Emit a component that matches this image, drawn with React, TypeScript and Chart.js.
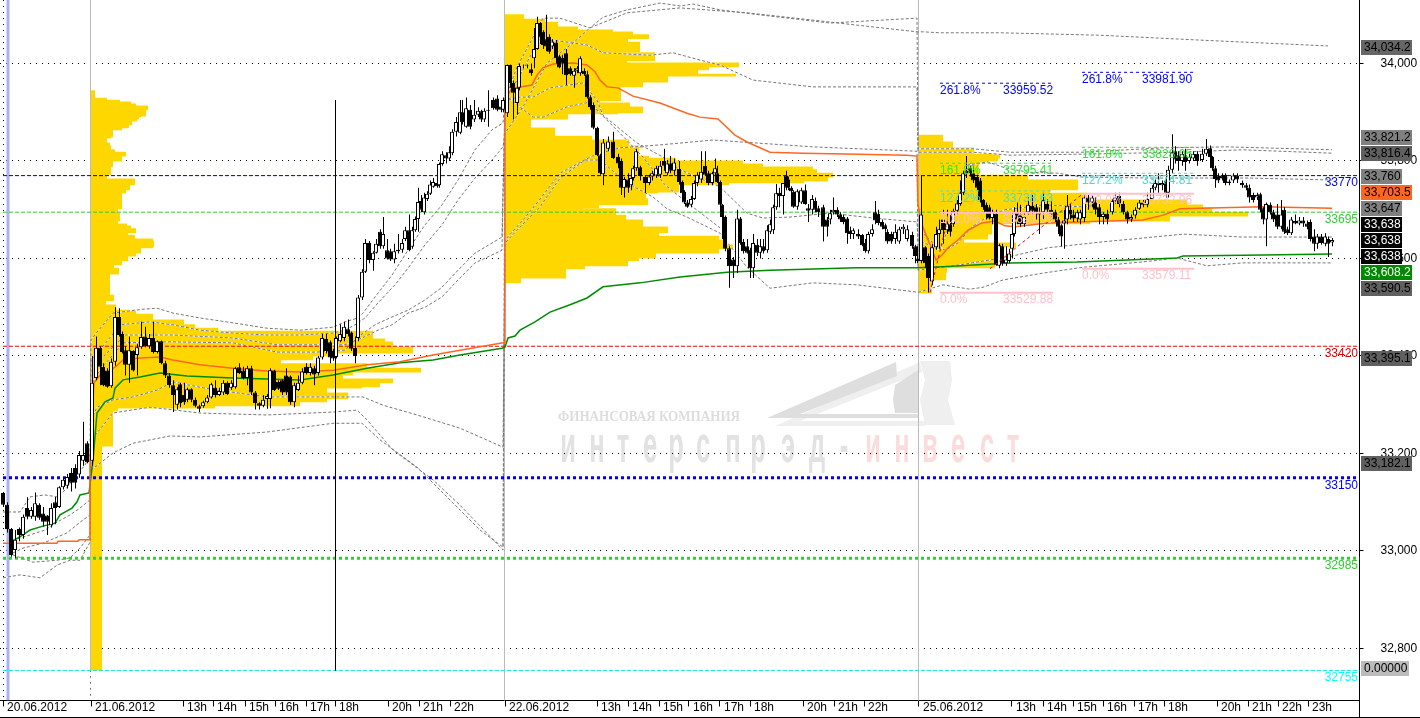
import React, { useEffect, useRef } from "react";
import { Chart, registerables } from "chart.js";

Chart.register(...registerables);

type Candle = [number, number, number, number, number];
type Pt = [number, number];

const candlesJun20: Candle[] = [
  [3,33119,33119,33090,33095],[7,33095,33100,33038,33045],[11,33045,33047,32988,32992],[15,33002,33043,32985,33023],
  [19,33045,33048,33020,33033],[23,33033,33075,33025,33070],[27,33088,33110,33065,33070],[31,33070,33090,33066,33084],
  [35,33070,33120,33062,33098],[39,33095,33098,33064,33068],[43,33077,33090,33050,33060],[47,33073,33074,33033,33060],
  [51,33053,33098,33048,33088],[55,33100,33111,33055,33088],[59,33090,33133,33088,33131],[63,33131,33150,33126,33146],
  [67,33134,33158,33128,33152],[71,33160,33170,33122,33140],[75,33170,33178,33128,33140],[79,33157,33205,33150,33197],
  [83,33185,33265,33175,33197],[87,33221,33225,33180,33182],[92,33185,33400,33175,33345],
];

const candlesJun21: Candle[] = [
  [96,33355,33440,33350,33417],[100,33417,33420,33340,33378],[103,33378,33385,33338,33340],[107,33370,33375,33335,33337],
  [111,33338,33395,33335,33388],[115,33388,33500,33380,33480],[119,33480,33498,33440,33443],[122,33445,33450,33405,33408],
  [125,33412,33420,33360,33382],[129,33382,33440,33345,33412],[133,33410,33412,33368,33370],[137,33402,33425,33360,33418],
  [141,33418,33470,33415,33439],[145,33440,33460,33418,33420],[149,33420,33445,33415,33437],[153,33437,33470,33405,33408],
  [157,33408,33432,33405,33430],[161,33430,33432,33383,33385],[165,33385,33390,33355,33360],[169,33360,33365,33335,33340],
  [173,33340,33350,33285,33320],[177,33300,33336,33290,33332],[180,33342,33345,33295,33303],[184,33320,33345,33300,33305],
  [187,33310,33335,33305,33332],[191,33332,33334,33305,33310],[195,33310,33315,33295,33298],[199,33297,33300,33285,33292],
  [203,33297,33308,33294,33305],[207,33305,33320,33303,33315],[211,33315,33345,33313,33342],[215,33335,33350,33315,33320],
  [219,33320,33335,33318,33328],[223,33325,33350,33320,33345],[227,33345,33348,33320,33322],[231,33335,33350,33330,33345],
  [235,33336,33378,33333,33375],[239,33377,33385,33363,33365],[243,33370,33378,33352,33355],[247,33355,33380,33340,33375],
  [251,33375,33380,33320,33325],[255,33325,33328,33290,33303],[259,33303,33305,33290,33298],[263,33298,33320,33295,33310],
  [267,33312,33322,33292,33318],[270,33312,33375,33293,33371],[274,33370,33372,33328,33330],[278,33347,33350,33330,33333],
  [282,33350,33352,33320,33325],[286,33360,33375,33320,33325],[290,33358,33360,33300,33305],[294,33305,33345,33295,33340],
  [298,33330,33360,33328,33345],[302,33345,33375,33342,33368],[306,33378,33385,33362,33365],[310,33365,33385,33360,33378],
  [314,33375,33380,33340,33362],[318,33365,33400,33360,33397],[322,33397,33445,33393,33437],[326,33435,33445,33405,33410],
  [330,33428,33432,33385,33397],[333,33410,33415,33390,33395],[336,33398,33440,33395,33437],[340,33430,33465,33428,33445],
  [344,33437,33470,33430,33460],[348,33455,33475,33440,33445],[351,33448,33450,33410,33415],[355,33417,33440,33385,33400],
  [358,33437,33525,33430,33520],[362,33520,33578,33515,33573],[365,33573,33640,33570,33632],
  [369,33632,33636,33590,33597],[373,33597,33615,33575,33612],[376,33612,33640,33610,33630],[380,33655,33660,33620,33625],
  [383,33625,33685,33620,33650],[387,33617,33640,33598,33600],[390,33615,33620,33595,33598],[394,33598,33630,33590,33615],
  [398,33615,33650,33610,33618],[402,33618,33640,33612,33632],[405,33640,33665,33636,33658],[409,33658,33690,33615,33617],
  [412,33624,33665,33620,33658],[415,33658,33686,33655,33681],
  [418,33681,33745,33655,33716],[421,33718,33730,33695,33700],[424,33695,33735,33690,33725],[427,33722,33738,33718,33733],
  [430,33733,33760,33730,33752],[433,33747,33765,33745,33757],[437,33755,33765,33745,33748],[439,33750,33797,33745,33794],
  [442,33794,33820,33790,33814],[446,33812,33818,33795,33805],[449,33805,33830,33800,33818],[452,33816,33865,33812,33860],
  [456,33860,33890,33850,33880],[460,33858,33925,33855,33900],[462,33900,33925,33875,33880],[466,33870,33930,33868,33908],
  [470,33905,33915,33865,33870],[474,33885,33925,33880,33895],[478,33895,33910,33890,33903],[481,33902,33905,33880,33885],
  [484,33885,33908,33880,33903],[488,33903,33945,33870,33905],[493,33925,33930,33905,33908],[497,33928,33935,33902,33905],
  [501,33912,33925,33900,33905],[503,33905,33930,33900,33925],
];

const candlesJun22: Candle[] = [
  [507,33898,33998,33890,33997],[510,33997,33998,33950,33960],[513,33960,33965,33885,33940],[517,33919,33955,33895,33950],
  [519,33950,34000,33945,33995],[523,33995,33998,33990,33995],[527,33995,33998,33990,33996],[531,33988,34000,33975,33980],
  [534,34011,34073,33990,34030],[537,34030,34096,34028,34083],[540,34083,34085,34040,34054],[543,34065,34068,34030,34038],
  [546,34050,34100,34025,34035],[549,34055,34060,34020,34024],[552,34035,34050,34030,34045],[556,34043,34048,34000,34011],
  [559,34015,34018,33990,33992],[562,34012,34018,33978,34000],[566,34021,34030,33956,33976],[570,33990,33994,33975,33978],
  [574,33975,33990,33950,33985],[577,33985,33995,33980,33990],[580,33980,34015,33975,34011],[584,33985,33990,33975,33978],
  [587,33978,33985,33928,33931],[590,33931,33935,33905,33910],[593,33915,33920,33865,33868],[597,33868,33870,33810,33812],
  [600,33812,33815,33772,33775],[603,33773,33845,33750,33838],[608,33825,33850,33820,33840],[613,33840,33860,33804,33806],
  [618,33808,33815,33785,33795],[621,33800,33805,33730,33745],[624,33745,33767,33725,33763],[628,33762,33775,33735,33745],
  [631,33750,33770,33740,33765],[633,33765,33790,33760,33785],[636,33785,33825,33780,33820],[640,33787,33790,33760,33769],
  [645,33767,33770,33735,33755],[649,33755,33772,33750,33768],[652,33768,33780,33760,33775],[656,33770,33790,33765,33785],
  [660,33772,33800,33765,33790],[664,33800,33825,33780,33790],[667,33775,33802,33770,33795],[670,33795,33810,33775,33780],
  [674,33780,33805,33770,33797],[679,33784,33800,33752,33757],[682,33757,33760,33730,33734],[684,33737,33740,33712,33715],
  [687,33715,33720,33704,33706],[691,33710,33728,33705,33722],[694,33722,33760,33720,33755],[697,33755,33777,33748,33772],
  [701,33762,33820,33755,33778],[705,33790,33820,33770,33772],[708,33775,33780,33750,33755],[712,33755,33778,33750,33775],
  [715,33775,33805,33770,33785],[717,33775,33790,33755,33757],[720,33757,33760,33705,33710],[722,33710,33712,33640,33685],
  [725,33685,33688,33615,33620],[729,33621,33625,33540,33584],[733,33598,33603,33560,33584],[737,33584,33700,33570,33682],
  [740,33682,33685,33628,33632],[743,33634,33640,33610,33615],[747,33625,33640,33610,33612],[750,33618,33622,33560,33580],
  [753,33580,33650,33560,33632],[757,33628,33640,33605,33612],[760,33612,33640,33600,33625],[763,33625,33640,33610,33615],
  [767,33617,33668,33612,33658],[770,33655,33680,33650,33670],[773,33658,33710,33650,33705],[776,33705,33753,33700,33734],
  [779,33735,33745,33705,33728],[783,33728,33755,33690,33755],[786,33770,33780,33740,33745],[788,33762,33768,33740,33745],
  [791,33745,33748,33735,33738],[793,33737,33740,33704,33706],[797,33706,33742,33700,33738],[801,33715,33745,33712,33740],
  [805,33740,33752,33710,33712],[808,33703,33712,33675,33698],[812,33700,33730,33690,33722],[815,33718,33725,33695,33700],
  [818,33703,33708,33685,33695],[823,33705,33710,33635,33665],[827,33680,33685,33645,33665],[830,33680,33700,33670,33693],
  [833,33695,33725,33690,33700],[837,33700,33705,33685,33690],[840,33690,33695,33675,33680],[843,33685,33690,33670,33675],
  [847,33682,33685,33630,33652],[850,33657,33665,33640,33650],[853,33650,33662,33640,33658],[858,33650,33660,33640,33645],
  [862,33648,33650,33625,33627],[865,33632,33640,33612,33615],[868,33615,33655,33610,33650],[872,33650,33670,33645,33660],
  [875,33695,33718,33670,33678],[878,33692,33700,33668,33673],[882,33675,33680,33660,33665],[885,33668,33672,33655,33660],
  [887,33655,33660,33630,33635],[891,33650,33655,33630,33635],[895,33640,33670,33630,33655],[899,33635,33665,33630,33660],
  [903,33660,33670,33650,33665],[907,33640,33668,33635,33660],[912,33648,33655,33620,33625],[915,33625,33628,33590,33605],
  [917,33600,33625,33590,33595],
];

const candlesJun25: Candle[] = [
  [921,33595,33770,33590,33690],[925,33623,33625,33580,33590],[928,33605,33610,33530,33560],[932,33553,33630,33545,33623],
  [936,33623,33665,33618,33650],[939,33650,33680,33620,33660],[943,33680,33700,33630,33658],[947,33658,33700,33650,33672],
  [950,33670,33690,33645,33655],[953,33670,33702,33665,33698],[957,33698,33720,33690,33713],[960,33712,33760,33708,33735],
  [963,33735,33780,33730,33775],[966,33775,33810,33765,33780],[970,33785,33790,33768,33775],[973,33775,33790,33755,33760],
  [977,33767,33772,33740,33745],[980,33760,33765,33715,33720],[983,33720,33722,33700,33705],[986,33710,33715,33680,33695],
  [989,33705,33710,33680,33682],[992,33683,33700,33670,33695],[996,33692,33700,33585,33587],[999,33585,33630,33580,33627],
  [1002,33625,33630,33585,33590],[1006,33590,33625,33585,33598],[1009,33595,33620,33590,33610],[1012,33620,33655,33600,33650],
  [1014,33650,33705,33645,33695],[1017,33695,33715,33670,33680],[1020,33690,33710,33665,33670],[1024,33670,33695,33665,33685],
  [1028,33695,33725,33690,33710],[1032,33708,33730,33690,33698],[1036,33705,33712,33680,33695],[1039,33695,33705,33650,33690],
  [1043,33695,33735,33680,33720],[1047,33712,33722,33695,33700],[1051,33700,33718,33685,33690],[1055,33695,33700,33675,33680],
  [1058,33680,33685,33650,33665],[1061,33668,33670,33625,33645],[1064,33672,33700,33620,33678],[1067,33680,33730,33670,33708],
  [1070,33700,33712,33680,33690],[1073,33690,33700,33675,33682],[1077,33682,33700,33675,33695],[1080,33680,33700,33670,33695],
  [1084,33683,33730,33675,33725],[1088,33725,33730,33700,33715],[1092,33715,33730,33705,33725],[1095,33720,33725,33690,33700],
  [1099,33705,33712,33670,33685],[1103,33685,33695,33670,33692],[1107,33692,33700,33670,33680],[1112,33695,33722,33690,33718],
  [1115,33718,33735,33712,33725],[1119,33728,33735,33705,33712],[1123,33712,33718,33690,33695],[1127,33695,33698,33672,33680],
  [1131,33680,33690,33675,33685],[1135,33688,33705,33682,33700],[1139,33702,33720,33700,33715],[1143,33715,33720,33705,33710],
  [1147,33710,33735,33705,33722],[1152,33722,33750,33720,33745],[1155,33745,33762,33740,33755],[1158,33755,33775,33735,33750],
  [1162,33750,33760,33740,33755],[1166,33760,33770,33725,33735],[1168,33735,33790,33725,33782],[1172,33782,33855,33775,33818],
  [1175,33820,33830,33795,33803],[1178,33812,33820,33780,33800],[1182,33800,33820,33790,33815],[1185,33812,33825,33780,33798],
  [1189,33800,33815,33795,33808],[1193,33805,33820,33800,33815],[1197,33815,33820,33790,33800],[1202,33802,33825,33798,33815],
  [1206,33815,33845,33810,33825],[1210,33826,33832,33805,33808],[1212,33808,33810,33780,33785],[1215,33785,33790,33745,33763],
  [1218,33770,33775,33755,33760],[1222,33770,33775,33760,33765],[1225,33772,33775,33750,33755],[1229,33755,33762,33750,33758],
  [1233,33760,33775,33755,33770],[1237,33770,33775,33755,33762],[1242,33755,33760,33745,33750],[1246,33750,33755,33740,33745],
  [1249,33745,33752,33715,33725],[1253,33730,33735,33715,33720],[1257,33725,33735,33720,33730],[1260,33732,33735,33695,33700],
  [1263,33703,33705,33670,33680],[1266,33680,33715,33625,33712],[1270,33710,33715,33690,33695],[1273,33695,33700,33675,33680],
  [1277,33690,33712,33660,33665],[1281,33665,33720,33660,33690],[1284,33700,33705,33650,33655],[1287,33660,33665,33648,33652],
  [1291,33652,33685,33648,33680],[1295,33677,33690,33670,33672],[1299,33672,33685,33668,33678],[1303,33678,33685,33665,33672],
  [1307,33672,33678,33660,33665],[1310,33675,33680,33635,33640],[1314,33645,33660,33615,33630],[1317,33630,33650,33620,33645],
  [1321,33645,33650,33628,33632],[1325,33630,33652,33625,33645],[1328,33640,33645,33603,33630],[1332,33633,33642,33625,33638],
];

const vwapOrange: Pt[] = [
  [3,33016],[57,33016],[58,33020],[78,33020],[79,33023],[89,33023],[90,33187],[94,33345],[100,33361],[107,33367],[115,33377],
  [123,33392],[140,33396],[160,33398],[173,33392],[200,33382],[233,33375],[267,33369],[300,33367],[333,33371],[367,33382],
  [400,33388],[433,33402],[460,33412],[503,33427],[505,33427],[505,33925],[512,33950],[520,33952],[532,33956],[537,33976],
  [543,33991],[553,33999],[573,34001],[587,33997],[595,33983],[600,33966],[607,33952],[618,33950],[633,33933],[660,33919],
  [687,33898],[700,33890],[718,33886],[735,33853],[747,33839],[770,33818],[803,33816],[858,33814],[907,33812],[917,33810],
  [918,33710],[922,33669],[930,33628],[936,33597],[942,33607],[948,33622],[958,33638],[968,33658],[982,33673],[995,33677],
  [1005,33667],[1015,33665],[1032,33669],[1048,33673],[1077,33675],[1143,33679],[1163,33689],[1180,33702],[1263,33706],[1332,33703],
];

const vwapGreen: Pt[] = [
  [13,33021],[23,33033],[30,33043],[43,33051],[55,33057],[60,33074],[72,33088],[77,33101],[80,33115],[89,33119],[93,33187],
  [97,33283],[105,33306],[113,33314],[115,33334],[123,33351],[140,33357],[160,33365],[187,33359],[233,33355],[267,33353],
  [300,33351],[333,33361],[367,33375],[400,33386],[433,33392],[460,33402],[502,33416],[505,33418],[508,33437],[515,33441],
  [520,33453],[535,33470],[550,33490],[570,33505],[587,33519],[603,33542],[640,33550],[680,33562],[727,33572],[770,33576],
  [857,33581],[917,33581],[943,33583],[1010,33591],[1077,33593],[1177,33601],[1183,33605],[1263,33607],[1332,33609],
];

const band1: Pt[] = [
  [3,33080],[20,33080],[30,33111],[45,33115],[57,33111],[65,33125],[75,33152],[85,33176],[90,33197],[91,33433],[97,33449],
  [113,33488],[143,33496],[157,33498],[173,33488],[200,33478],[233,33468],[267,33457],[300,33453],[333,33459],[345,33470],
  [358,33478],[363,33488],[375,33521],[392,33566],[408,33617],[425,33669],[442,33710],[458,33761],[475,33823],[492,33864],
  [503,33878],[505,33925],[517,33993],[530,34042],[543,34093],[560,34093],[590,34073],[603,34095],[627,34110],[660,34124],
  [680,34118],[693,34122],[720,34110],[763,34099],[830,34083],[917,34093],[918,33825],[927,33825],[973,33825],[1010,33818],
  [1082,33818],[1163,33827],[1227,33829],[1332,33823],
];
const band2: Pt[] = [
  [13,33022],[30,33033],[45,33043],[57,33059],[70,33074],[80,33088],[90,33105],[91,33392],[100,33412],[120,33464],[150,33470],
  [173,33464],[200,33453],[233,33447],[267,33443],[300,33443],[333,33447],[345,33453],[355,33464],[365,33478],[378,33509],
  [395,33546],[408,33580],[425,33628],[442,33669],[458,33720],[475,33765],[492,33802],[503,33829],[505,33857],[523,33911],
  [547,34001],[573,34042],[590,34073],[627,34104],[680,34114],[747,34104],[813,34089],[847,34081],[917,34065],[923,34065],
  [940,34063],[1000,34063],[1100,34058],[1200,34048],[1328,34036],
];
const band3: Pt[] = [
  [13,32996],[23,33006],[43,33016],[67,33037],[80,33059],[90,33074],[91,33340],[100,33371],[123,33427],[170,33429],[233,33427],
  [277,33408],[317,33408],[345,33412],[358,33439],[375,33464],[392,33480],[408,33494],[425,33515],[442,33541],[458,33576],
  [475,33611],[502,33644],[505,33925],[520,33976],[538,34044],[553,34048],[587,34038],[603,34022],[650,34017],[673,34022],
  [700,34007],[720,33997],[753,33966],[813,33952],[917,33952],[918,33818],[973,33818],[1010,33812],[1082,33814],[1177,33818],
  [1243,33823],[1332,33816],
];
const band4: Pt[] = [
  [3,32945],[20,32951],[40,32945],[57,32971],[70,32981],[80,32981],[90,33018],[91,33269],[97,33295],[113,33310],[133,33316],
  [157,33330],[173,33347],[200,33336],[217,33330],[267,33316],[333,33316],[363,33316],[383,33299],[417,33279],[460,33252],
  [503,33213],[505,33638],[523,33679],[537,33714],[560,33775],[590,33808],[600,33816],[620,33827],[660,33833],[713,33843],
  [813,33829],[917,33820],[918,33576],[960,33587],[1008,33603],[1048,33622],[1102,33634],[1143,33642],[1183,33650],[1243,33644],[1332,33644],
];
const band5: Pt[] = [
  [100,33392],[125,33443],[173,33443],[233,33437],[277,33423],[317,33423],[345,33423],[362,33437],[378,33453],[392,33464],
  [408,33488],[425,33500],[442,33521],[458,33556],[475,33591],[502,33617],[505,33925],[520,33931],[533,33931],[550,33950],
  [583,33960],[597,33925],[603,33894],[637,33837],[663,33808],[680,33782],[720,33747],[747,33693],[763,33683],[790,33685],
  [830,33693],[873,33683],[917,33675],[918,33638],[940,33617],[955,33700],[968,33792],[988,33798],[1005,33786],[1028,33777],
  [1058,33775],[1082,33767],[1150,33765],[1250,33765],[1332,33761],
];
const band7: Pt[] = [
  [13,32992],[33,32977],[57,32981],[70,32986],[80,33006],[90,33033],[91,33228],[97,33242],[113,33283],[150,33295],[200,33283],
  [267,33279],[333,33285],[357,33289],[367,33269],[393,33207],[433,33146],[460,33094],[503,33002],[505,33632],[525,33675],
  [540,33706],[560,33765],[585,33802],[600,33802],[627,33755],[653,33726],[667,33702],[687,33685],[720,33652],[747,33582],
  [770,33539],[813,33550],[857,33546],[917,33531],[919,33531],[943,33546],[970,33537],[983,33541],[1003,33556],[1043,33570],
  [1083,33582],[1143,33593],[1177,33601],[1207,33585],[1243,33591],[1332,33591],
];
const band8: Pt[] = [
  [91,33166],[100,33180],[113,33201],[133,33221],[170,33236],[200,33234],[267,33244],[333,33262],[362,33262],[380,33228],
  [417,33172],[443,33119],[460,33084],[480,33043],[503,33008],[505,33935],[533,33890],[543,33890],[567,33911],[590,33921],
  [600,33898],[620,33857],[643,33808],[665,33751],[690,33710],[720,33663],
];
const band9: Pt[] = [
  [920,33658],[935,33628],[945,33617],[958,33632],[972,33665],[990,33689],[1005,33700],[1043,33710],[1082,33706],[1100,33710],
];
const bands = [band1, band2, band3, band4, band5, band7, band8, band9];

type Span = [number, number];
const profileJun21: Span[] = [
  [33944,4],[33929,16],[33925,29],[33921,40],[33917,45],[33913,57],[33907,55],[33894,50],[33890,48],[33886,46],[33882,41],[33876,38],
  [33868,31],[33864,22],[33851,20],[33847,16],[33837,19],[33831,20],[33823,24],[33818,35],[33812,31],[33800,22],[33788,20],[33773,16],
  [33763,44],[33753,39],[33741,35],[33736,31],[33718,31],[33702,27],[33693,29],[33679,27],[33671,36],[33667,40],[33661,45],[33654,37],
  [33648,44],[33640,62],[33636,63],[33626,62],[33622,50],[33613,45],[33607,37],[33595,31],[33587,23],[33580,28],[33570,19],[33525,23],
  [33515,15],[33505,25],[33494,45],[33486,62],[33474,93],[33464,104],[33457,127],[33451,282],[33435,294],[33429,302],[33418,322],
  [33408,240],[33400,222],[33392,190],[33384,276],[33375,330],[33369,262],[33361,252],[33353,302],[33345,289],[33338,271],[33334,236],
  [33324,257],[33314,236],[33306,209],[33300,124],[33295,27],[33287,22],[33215,11],[32756,0],
];
const profileJun22: Span[] = [
  [34100,19],[34091,40],[34085,53],[34075,73],[34069,108],[34065,128],[34059,144],[34052,123],[34044,135],[34026,115],[34022,150],
  [34007,122],[34001,234],[33995,204],[33989,193],[33978,231],[33974,163],[33964,138],[33952,116],[33925,95],[33919,125],[33911,138],
  [33901,113],[33898,63],[33886,26],[33868,50],[33851,87],[33843,124],[33831,138],[33827,134],[33810,144],[33806,171],[33800,238],
  [33794,258],[33788,308],[33782,312],[33775,328],[33767,323],[33759,299],[33755,224],[33751,174],[33738,153],[33734,141],[33722,143],
  [33712,94],[33706,78],[33702,111],[33689,121],[33679,138],[33665,163],[33654,154],[33646,214],[33638,219],[33628,228],[33622,214],
  [33613,151],[33603,134],[33597,123],[33587,80],[33580,61],[33562,16],[33550,0],
];
const profileJun25: Span[] = [
  [33853,24],[33839,34],[33827,55],[33814,81],[33808,79],[33800,68],[33796,60],[33771,109],[33761,159],[33741,131],[33734,168],
  [33720,268],[33710,284],[33704,293],[33695,329],[33689,251],[33679,171],[33673,73],[33652,69],[33642,45],[33632,97],[33624,76],
  [33583,28],[33572,27],[33556,13],[33531,0],
];

const sessionStarts = [91, 505, 919];
const levelPrices = [33770, 33695, 33420, 33150, 32985, 32755];
const fibLevels = ["261.8%", "161.8%", "127.2%", "100.0%", "0.0%"];
const fibPricesA = [33959.52, 33795.41, 33738.63, 33693.99, 33529.88];
const fibPricesB = [33981.9, 33828.05, 33774.81, 33732.96, 33579.11];

const priceTicks = [32800, 33000, 33200, 33400, 33600, 33800, 34000];
const tickTimes = [3,91,183,213,245,275,306,335,388,419,450,505,597,628,659,689,720,750,803,834,864,919,1012,1043,1073,1103,1134,1164,1217,1248,1278,1308];
const tickNames = ["20.06.2012","21.06.2012","13h","14h","15h","16h","17h","18h","20h","21h","22h","22.06.2012","13h","14h","15h","16h","17h","18h","20h","21h","22h","25.06.2012","13h","14h","15h","16h","17h","18h","20h","21h","22h","23h"];

const tagTexts = ["34,034.2","33,821.2","33,816.4","33,760","33,703.5","33,647","33,638","33,638","33,638","33,608.2","33,590.5","33,395.1","33,182.1","0.00000"];

const FONT = "'Liberation Sans', Arial, sans-serif";
const Y_TOP = 34130.26;
const Y_BOTTOM = 32693.3;
const X_MAX = 1359.5;

const toXY = (pts: Pt[]) => pts.map(([x, y]) => ({ x, y }));
const line = (data: any[], color: string, width: number, order: number, dash: number[] = []) => ({
  type: "line", data, borderColor: color, borderWidth: width, borderDash: dash, pointRadius: 0, tension: 0, fill: false, order, borderCapStyle: "butt",
});

function profileRows(spans: Span[], base: number) {
  const rows: any[] = [];
  for (let i = 0; i < spans.length - 1; i++) {
    const [top, len] = spans[i];
    const bottom = spans[i + 1][0];
    for (let p = top; p > bottom; p -= 4) rows.push({ y: Math.max(p - 2, bottom), x: [base, base + len] });
  }
  return rows;
}

const profileDs = (spans: Span[], base: number) => ({
  type: "bar", indexAxis: "y", data: profileRows(spans, base), backgroundColor: "#ffd700", borderWidth: 0, barThickness: 2.8,
  grouped: false, inflateAmount: 0, order: 100,
});

const levelStyles: [string, number, number[]][] = [
  ["#0000b0", 1, [4, 2]],
  ["#33cc33", 1, [4, 2]],
  ["#ff0000", 1, [4, 2]],
  ["#0000ee", 3, [3, 3]],
  ["#33cc33", 3, [3, 3]],
  ["#00eeee", 1, [4, 2]],
];
const levelTextColors = ["#0000ff", "#33cc33", "#dd0000", "#0000ff", "#33cc33", "#00ffff"];
const fibColors = ["#0000ff", "#22ee22", "#40e0d0", "#ffc0cb", "#ffc0cb"];

const tagStyles: [number, number, string, string][] = [
  [40, 51, "#666666", "#000"],
  [130, 51, "#808080", "#000"],
  [146, 51, "#606060", "#000"],
  [169, 41, "#808080", "#000"],
  [185, 51, "#ff6622", "#000"],
  [201, 41, "#808080", "#000"],
  [217, 41, "#000000", "#fff"],
  [233, 41, "#000000", "#fff"],
  [249, 41, "#000000", "#fff"],
  [265, 51, "#008800", "#fff"],
  [281, 51, "#606060", "#000"],
  [351, 51, "#606060", "#000"],
  [456, 51, "#606060", "#000"],
  [661, 48, "#bbbbbb", "#000"],
];

const watermarkLetters: [string, number, boolean][] = [
  ["и",568,false],["н",597,false],["т",623,false],["е",650,false],["р",676,false],["с",703,false],["п",733,false],["р",758,false],["э",788,false],["д",817,false],["-",844,false],
  ["и",873,true],["н",902,true],["в",930,true],["е",958,true],["с",987,true],["т",1013,true],
];

const watermark = {
  id: "watermark",
  beforeDraw(chart: any) {
    const c = chart.ctx;
    c.save();
    const poly = (pts: number[], color: string) => {
      c.fillStyle = color;
      c.beginPath();
      c.moveTo(pts[0], pts[1]);
      for (let i = 2; i < pts.length; i += 2) c.lineTo(pts[i], pts[i + 1]);
      c.closePath();
      c.fill();
    };
    poly([775,426,925,426,925,421,800,421,922,372,920,362], "#efefef");
    poly([920,361,950,361,952,380,948,400,955,425,925,425,920,400,925,380], "#efefef");
    poly([767,418,896,362,897,376,800,414,918,414,918,418], "#dedede");
    poly([895,385,918,370,918,413,895,413,893,400], "#dedede");
    c.font = "bold 15px 'Liberation Serif', serif";
    c.fillStyle = "#dddddd";
    c.textAlign = "left";
    c.textBaseline = "middle";
    c.fillText("ФИНАНСОВАЯ КОМПАНИЯ", 558, 417, 182);
    for (const [ch, x, red] of watermarkLetters) {
      c.save();
      c.translate(x, 462);
      c.scale(0.85, 1.75);
      c.font = `bold 30px ${FONT}`;
      c.textAlign = "center";
      c.textBaseline = "alphabetic";
      c.fillStyle = red ? "#fadcdc" : "#e2e2e2";
      c.fillText(ch, 0, 0);
      c.restore();
    }
    c.restore();
  },
};

const annotations = {
  id: "annotations",
  afterDraw(chart: any) {
    const c = chart.ctx;
    const y = chart.scales.y;
    c.save();
    c.font = `12px ${FONT}`;
    c.textBaseline = "middle";
    c.textAlign = "left";
    [[fibPricesA, 940, 1003], [fibPricesB, 1082, 1142]].forEach(([prices, x1, x2]: any) => {
      prices.forEach((p: number, i: number) => {
        c.fillStyle = fibColors[i];
        const py = y.getPixelForValue(p) + 7.5;
        c.fillText(fibLevels[i], x1, py);
        c.fillText(p.toFixed(2), x2, py);
      });
    });
    c.textAlign = "right";
    levelPrices.forEach((p, i) => {
      c.fillStyle = levelTextColors[i];
      c.fillText(String(p), 1358, y.getPixelForValue(p) + 7.5);
    });
    c.textAlign = "left";
    tagTexts.forEach((t, i) => {
      const [top, w, bg, fg] = tagStyles[i];
      c.fillStyle = bg;
      c.fillRect(1361, top, w, 15);
      c.fillStyle = fg;
      c.fillText(t, 1364, top + 8);
    });
    c.strokeStyle = "#000";
    c.lineWidth = 1;
    c.beginPath();
    c.moveTo(0, 717.5);
    c.lineTo(1420, 717.5);
    c.moveTo(1359.5, 700);
    c.lineTo(1359.5, 718);
    c.stroke();
    c.restore();
  },
};

export default function App() {
  const ref = useRef<HTMLCanvasElement>(null);
  useEffect(() => {
    const candles = [...candlesJun20, ...candlesJun21, ...candlesJun22, ...candlesJun25];
    const datasets: any[] = [];
    datasets.push(profileDs(profileJun21, 91), profileDs(profileJun22, 505), profileDs(profileJun25, 919));
    bands.forEach((b) => {
      datasets.push(line(toXY(b), "#ffffff", 1, 90));
      datasets.push(line(toXY(b), "#777777", 1, 80, [3, 2]));
    });
    datasets.push(line([{ x: 3.5, y: Y_TOP }, { x: 3.5, y: Y_BOTTOM }], "#000", 1, 95, [1, 5]));
    datasets.push(line([{ x: 8, y: Y_TOP }, { x: 8, y: Y_BOTTOM }], "#aab0f0", 3, 95));
    sessionStarts.forEach((s) => {
      datasets.push(line([{ x: s - 0.5, y: Y_TOP }, { x: s - 0.5, y: s === 91 ? 32755 : Y_BOTTOM }], "#bbbbbb", 1, 85));
    });
    datasets.push(line([{ x: 90.5, y: 32755 }, { x: 90.5, y: Y_BOTTOM }], "#000", 1, 85, [1, 5]));
    datasets.push(line([{ x: 335.5, y: 33925 }, { x: 335.5, y: 32755 }], "#000", 1, 30));
    levelPrices.forEach((p, i) => {
      const [col, w, dash] = levelStyles[i];
      datasets.push(line([{ x: 3, y: p }, { x: X_MAX, y: p }], col, w, 70, dash));
    });
    datasets.push(line(toXY(vwapOrange), "#ff6622", 1.5, 40));
    datasets.push(line(toXY(vwapGreen), "#008c00", 1.5, 40));
    datasets.push({
      type: "bar",
      data: candles.map(([t, , h, l]) => ({ x: t + 0.5, y: [l, h] })),
      backgroundColor: "#000", borderWidth: 0, barThickness: 1, grouped: false, inflateAmount: 0, order: 20,
    });
    datasets.push({
      type: "bar",
      data: candles.map(([t, o, , , c]) => ({ x: t, y: [o, c] })),
      backgroundColor: candles.map(([, o, , , c]) => (c > o ? "#ffffff" : "#000000")),
      borderColor: "#000", borderWidth: 1, borderSkipped: false, barThickness: 4, grouped: false, inflateAmount: 0, order: 10,
    });
    datasets.push(line([{ x: 930, y: 33530 }, { x: 948, y: 33683 }], "#ff0000", 1, 5, [3, 3]));
    datasets.push(line([{ x: 990, y: 33579 }, { x: 1083, y: 33733 }], "#ff0000", 1, 5, [3, 3]));
    [[fibPricesA, 940, 1053], [fibPricesB, 1082, 1194]].forEach(([prices, x1, x2]: any) => {
      prices.forEach((p: number, i: number) => {
        const solid = i >= 3;
        datasets.push(line([{ x: x1, y: p }, { x: x2, y: p }], fibColors[i], i === 3 || i === 4 ? 2 : 1, 5, solid ? [] : [3, 3]));
      });
    });

    const chart = new Chart(ref.current as HTMLCanvasElement, {
      type: "bar",
      data: { datasets },
      plugins: [watermark, annotations],
      options: {
        responsive: false,
        devicePixelRatio: 1,
        animation: false,
        layout: { padding: 0 },
        font: { family: FONT, size: 12 },
        plugins: { legend: { display: false }, tooltip: { enabled: false } },
        events: [],
        scales: {
          x: {
            type: "linear",
            min: 0,
            max: X_MAX,
            offset: false,
            afterFit: (s: any) => { s.height = 17.5; s.paddingLeft = 0; s.paddingRight = 0; },
            afterBuildTicks: (s: any) => { s.ticks = tickTimes.map((value) => ({ value })); },
            border: { display: true, color: "#000", width: 1 },
            grid: { offset: false, drawOnChartArea: false, drawTicks: true, tickLength: 6, tickColor: "#000", tickWidth: 1 },
            ticks: {
              autoSkip: false, maxRotation: 0, minRotation: 0, align: "start", labelOffset: 4, padding: -6,
              color: "#000", font: { family: FONT, size: 12 },
              callback: (_v: any, i: number) => tickNames[i],
            },
          },
          y: {
            type: "linear",
            position: "right",
            min: Y_BOTTOM,
            max: Y_TOP,
            offset: false,
            afterFit: (s: any) => { s.width = 60.5; s.paddingTop = 0; s.paddingBottom = 0; },
            afterBuildTicks: (s: any) => { s.ticks = priceTicks.map((value) => ({ value })); },
            border: { display: true, color: "#000", width: 1, dash: [1, 5] },
            grid: { offset: false, color: "#000", lineWidth: 1, drawTicks: true, tickLength: 4, tickColor: "#000", tickBorderDash: [] },
            ticks: {
              autoSkip: false, padding: 17, color: "#000", font: { family: FONT, size: 12 },
              callback: (v: any) => Number(v).toLocaleString("en-US"),
            },
          },
        },
      } as any,
    } as any);
    return () => chart.destroy();
  }, []);
  return (
    <div style={{ position: "fixed", left: 0, top: 0, width: 1420, height: 718, background: "#fff" }}>
      <canvas ref={ref} width={1420} height={718} style={{ display: "block" }} />
    </div>
  );
}
